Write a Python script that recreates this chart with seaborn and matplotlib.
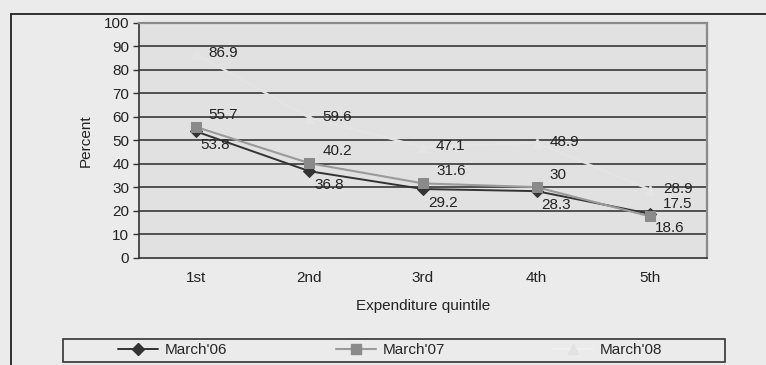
import matplotlib
matplotlib.use("Agg")
import matplotlib.pyplot as plt
import seaborn as sns
import pandas as pd
from matplotlib.lines import Line2D
from matplotlib.patches import Rectangle

quintiles = ["1st", "2nd", "3rd", "4th", "5th"]
march06 = [53.8, 36.8, 29.2, 28.3, 18.6]
march07 = [55.7, 40.2, 31.6, 30.0, 17.5]
march08 = [86.9, 59.6, 47.1, 48.9, 28.9]
series_names = ["March'06", "March'07", "March'08"]

df = pd.DataFrame({
    "quintile": quintiles * 3,
    "percent": march06 + march07 + march08,
    "series": [s for s in series_names for _ in quintiles],
})

sns.set_theme(style="white")
plt.rcParams["font.family"] = ["Liberation Sans", "DejaVu Sans"]
plt.rcParams["font.size"] = 11

fig = plt.figure(figsize=(7.66, 3.65), dpi=100)
fig.patch.set_facecolor("#ebebeb")
W, H = 766, 365
ax = fig.add_axes([139 / W, 1 - 257.5 / H, 568 / W, 234.5 / H])
ax.set_facecolor("#e1e1e1")

# March'08 is drawn in a near-background tint, so it only shows where it cuts the grid
styles = {
    "March'06": dict(color="#333333", marker="D", ms=6, lw=1.4, mfc="#333333", mec="#333333"),
    "March'07": dict(color="#9a9a9a", marker="s", ms=6.5, lw=1.5, mfc="#8a8a8a", mec="#8a8a8a"),
    "March'08": dict(color="#e4e4e4", marker="^", ms=6.5, lw=1.6, mfc="#e4e4e4", mec="#e4e4e4"),
}
label_offsets = {
    "March'06": (5, -14),
    "March'07": (13, 12),
    "March'08": (13, 1),
}

for name in series_names:
    st = styles[name]
    sub = df[df["series"] == name]
    sns.lineplot(data=sub, x="quintile", y="percent", ax=ax, sort=False,
                 color=st["color"], linewidth=st["lw"], marker=st["marker"],
                 markersize=st["ms"], markerfacecolor=st["mfc"],
                 markeredgecolor=st["mec"], label=name, zorder=4)

for name in series_names:
    sub = df[df["series"] == name].reset_index(drop=True)
    dx, dy = label_offsets[name]
    for i, row in sub.iterrows():
        v = row["percent"]
        ax.annotate(f"{v:g}", (i, v), xytext=(dx, dy), textcoords="offset pixels",
                    ha="left", va="center", fontsize=11, color="#222222", zorder=5)

ax.set_ylim(0, 100)
ax.set_xlim(-0.5, 4.5)
ax.set_yticks(range(0, 101, 10))
ax.set_xticks(range(5))
ax.set_xticklabels(quintiles)
ax.set_xticks([k - 0.5 for k in range(6)], minor=True)
ax.tick_params(axis="x", which="major", length=0, pad=10, labelsize=11, colors="#222222")
ax.tick_params(axis="x", which="minor", length=4, width=1, direction="out", color="#333333")
ax.tick_params(axis="y", length=4, width=1, direction="out", color="#333333",
               pad=3, labelsize=11, labelcolor="#222222", left=True)

for yv in range(10, 100, 10):
    ax.axhline(yv, color="#2a2a2a", lw=1.1, zorder=1)

for side in ["left", "bottom"]:
    ax.spines[side].set_color("#333333")
    ax.spines[side].set_linewidth(1.2)
for side in ["top", "right"]:
    ax.spines[side].set_color("#8a8a8a")
    ax.spines[side].set_linewidth(1.6)

ax.set_xlabel("Expenditure quintile", fontsize=11, color="#222222", labelpad=10)
ax.set_ylabel("Percent", fontsize=11, color="#222222", labelpad=8)

ax.get_legend().remove()
handles = [Line2D([], [], color=styles[n]["color"], lw=styles[n]["lw"],
                  marker=styles[n]["marker"], ms=styles[n]["ms"],
                  mfc=styles[n]["mfc"], mec=styles[n]["mec"]) for n in series_names]
handles[2] = Line2D([], [], color="#f1f1f1", lw=1.1, marker="^", ms=6.5,
                    mfc="#e2e2e2", mec="#e2e2e2")
em = 11 * 100 / 72
fig.legend(handles, series_names, ncol=3, frameon=False, fontsize=11,
           loc="center left", bbox_to_anchor=(118 / W, 1 - 350.5 / H),
           handlelength=40 / em, handletextpad=7 / em, columnspacing=108 / em,
           borderpad=0, borderaxespad=0)
fig.patches.append(Rectangle((63 / W, 1 - 362 / H), 662 / W, 23 / H,
                             transform=fig.transFigure, fill=False,
                             edgecolor="#333333", lw=1.2))

fig.lines.append(Line2D([11 / W, 11 / W], [0, 1 - 14 / H], transform=fig.transFigure,
                        color="#222222", lw=1.3))
fig.lines.append(Line2D([11 / W, 1], [1 - 14 / H, 1 - 14 / H], transform=fig.transFigure,
                        color="#222222", lw=1.3))

fig.savefig("out.png", dpi=100, facecolor=fig.get_facecolor())
